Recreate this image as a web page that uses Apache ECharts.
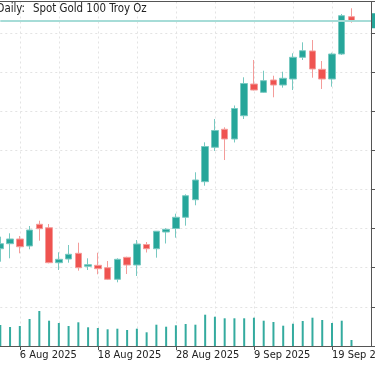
<!DOCTYPE html>
<html><head><meta charset="utf-8">
<script src="https://cdn.jsdelivr.net/npm/echarts@6/dist/echarts.min.js"></script>
<style>html,body{margin:0;padding:0;background:#fff}#c{width:375px;height:366px}</style>
</head><body><div id="c"></div>
<script>
const dates = ['2025-08-04','2025-08-05','2025-08-06','2025-08-07','2025-08-08',
  '2025-08-11','2025-08-12','2025-08-13','2025-08-14','2025-08-15',
  '2025-08-18','2025-08-19','2025-08-20','2025-08-21','2025-08-22',
  '2025-08-25','2025-08-26','2025-08-27','2025-08-28','2025-08-29',
  '2025-09-01','2025-09-02','2025-09-03','2025-09-04','2025-09-05',
  '2025-09-08','2025-09-09','2025-09-10','2025-09-11','2025-09-12',
  '2025-09-15','2025-09-16','2025-09-17','2025-09-18','2025-09-19',
  '2025-09-22','2025-09-23','2025-09-24','2025-09-25'];
const opens = [3336.4,3346.0,3355.0,3341.6,3383.2,3376.6,3309.6,3316.7,3327.6,3302.7,3304.6,3300.0,3277.8,3319.9,3305.2,3344.5,3336.4,3368.4,3375.1,3396.6,3430.3,3464.8,3530.7,3565.2,3546.6,3591.2,3651.9,3636.0,3659.6,3650.0,3661.5,3703.1,3715.2,3680.1,3661.5,3709.4,3780.9];
const closes = [3346.0,3355.0,3340.2,3372.2,3374.7,3309.6,3316.1,3325.7,3300.0,3305.8,3298.1,3277.8,3316.1,3305.2,3345.4,3336.4,3369.9,3373.6,3396.6,3437.9,3468.0,3532.2,3562.9,3546.6,3605.0,3652.9,3640.4,3658.3,3650.0,3662.9,3703.1,3715.7,3680.7,3661.5,3709.4,3782.8,3773.2];
const lows = [3311.5,3318.0,3327.6,3335.3,3351.7,3308.4,3295.6,3309.6,3294.3,3295.6,3287.4,3276.4,3272.0,3287.9,3284.1,3329.1,3319.2,3346.4,3357.5,3380.5,3419.6,3457.1,3523.6,3506.3,3539.9,3584.9,3639.5,3634.7,3626.5,3644.9,3640.4,3697.9,3664.0,3642.4,3646.8,3707.5,3769.4];
const highs = [3359.4,3365.9,3360.7,3379.9,3390.0,3383.7,3329.5,3343.5,3347.9,3318.0,3328.7,3312.8,3318.0,3321.1,3353.1,3349.2,3370.3,3375.7,3403.5,3440.6,3482.8,3540.2,3584.9,3569.0,3610.8,3664.8,3697.9,3677.4,3667.8,3675.5,3710.8,3731.8,3736.2,3696.0,3711.9,3786.1,3797.0];
const volumes = [210,190,200,270,350,253,230,200,237,187,180,167,173,160,173,137,213,193,207,220,213,313,293,277,277,277,283,253,240,203,223,250,283,260,230,253,60];
const titleLeft = 'Daily:';
const titleRight = 'Spot Gold 100 Troy Oz';

const months = ['Jan','Feb','Mar','Apr','May','Jun','Jul','Aug','Sep','Oct','Nov','Dec'];
function fmt(d){const p=d.split('-');return (+p[2])+' '+months[+p[1]-1]+' '+p[0];}
const candles = opens.map((o,i)=>[o, closes[i], lows[i], highs[i]]);
const lastClose = closes[closes.length-1];
const FONT = "'DejaVu Sans Condensed','Liberation Sans',sans-serif";
const AX = '#555';
const GRIDC = '#e3e3e3';

const chart = echarts.init(document.getElementById('c'), null, {renderer:'canvas'});
chart.setOption({
  animation:false,
  backgroundColor:'#fff',
  title:[
    {text:titleLeft, left:-3.5, top:4, padding:0, textStyle:{fontSize:11.4,fontWeight:'normal',color:'#222',fontFamily:FONT}},
    {text:titleRight, left:33, top:4, padding:0, textStyle:{fontSize:11.4,fontWeight:'normal',color:'#222',fontFamily:FONT}}
  ],
  grid:[
    {left:0.3, right:4, top:1.5, bottom:20, containLabel:false, outerBoundsMode:'none'},
    {left:0.3, right:4, top:246, bottom:20, containLabel:false, outerBoundsMode:'none'}
  ],
  xAxis:[
    {type:'category', gridIndex:0, data:dates, boundaryGap:false,
     axisLine:{lineStyle:{color:AX}},
     axisTick:{interval:(i)=>i%8===2, length:4, lineStyle:{color:AX}},
     axisLabel:{interval:(i)=>i%8===2, formatter:fmt, align:'left', margin:4, fontSize:11, color:'#222', fontFamily:FONT, hideOverlap:false},
     splitLine:{show:true, interval:(i)=>i%4===2, lineStyle:{color:GRIDC, type:[2,3]}}},
    {type:'category', gridIndex:0, position:'top', data:dates, boundaryGap:false,
     axisLine:{lineStyle:{color:AX}}, axisTick:{show:false}, axisLabel:{show:false}, splitLine:{show:false}},
    {type:'category', gridIndex:1, data:dates, boundaryGap:false, show:false}
  ],
  yAxis:[
    {type:'value', gridIndex:0, position:'right', min:3150, max:3810, interval:75,
     axisLine:{show:true, lineStyle:{color:AX}},
     axisTick:{show:true, length:4, lineStyle:{color:AX}},
     axisLabel:{fontSize:11, color:'#222', margin:8, fontFamily:FONT},
     splitLine:{show:true, lineStyle:{color:GRIDC, type:[2,3]}}},
    {type:'value', gridIndex:1, min:0, max:1000, show:false}
  ],
  series:[
    {type:'bar', xAxisIndex:2, yAxisIndex:1, data:volumes, barWidth:2, itemStyle:{color:'#34ab9f'}},
    {type:'candlestick', xAxisIndex:0, yAxisIndex:0, data:candles, barWidth:7,
     itemStyle:{color:'#26a69a', color0:'#ef5350', borderColor:'#78c9c1', borderColor0:'#f49c9a', borderWidth:1},
     markLine:{symbol:['none','none'], silent:true, animation:false,
       data:[{yAxis:lastClose}],
       lineStyle:{color:'#a6dcd7', width:2, type:'solid'},
       label:{position:'end', distance:1, formatter:()=>lastClose.toFixed(1), backgroundColor:'#26a69a', color:'#fff', padding:[2,4], fontSize:11, fontFamily:FONT}}}
  ]
});
</script></body></html>
